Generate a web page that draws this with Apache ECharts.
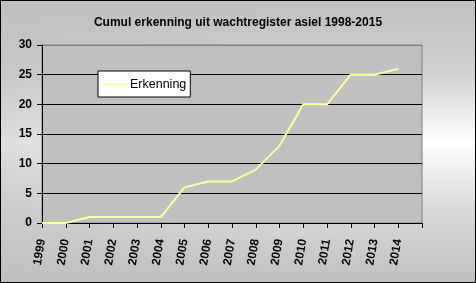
<!DOCTYPE html>
<html>
<head>
<meta charset="utf-8">
<script src="https://cdn.jsdelivr.net/npm/echarts@6/dist/echarts.min.js"></script>
<style>
html,body{margin:0;padding:0;}
#c{width:476px;height:283px;box-sizing:border-box;border:1px solid #000;
background:
 linear-gradient(to right, rgba(192,192,192,0.55) 0%, rgba(192,192,192,0) 60%),
 linear-gradient(to bottom, #c0c0c0 0%, #d0d0d0 25%, #ffffff 50%, #d8d8d8 75%, #c0c0c0 100%);}
</style>
</head>
<body>
<div id="c"></div>
<script>
const titleText = 'Cumul erkenning uit wachtregister asiel 1998-2015';
const categories = ['1999','2000','2001','2002','2003','2004','2005','2006','2007','2008','2009','2010','2011','2012','2013','2014',''];
const seriesName = 'Erkenning';
const erkenning = [0,0,1,1,1,1,6,7,7,9,13,20,20,25,25,26];
const yTicks = {min:0, max:30, interval:5};

const chart = echarts.init(document.getElementById('c'), null, {renderer:'canvas'});
const F = '"Liberation Sans", Arial, sans-serif';
chart.setOption({
  backgroundColor:'transparent',
  animation:false,
  title:{text:titleText, left:'center', top:11,
    textStyle:{fontFamily:F, fontSize:12, fontWeight:'bold', color:'#000'}},
  legend:{left:97, top:70, padding:[7,4,6,5], backgroundColor:'#fff', borderColor:'#000', borderWidth:1,
    itemWidth:25, itemHeight:2, itemGap:2, icon:'rect',
    textStyle:{fontFamily:F, fontSize:12.5, color:'#000', padding:[0,0,0,-3]},
    data:[{name:seriesName}]},
  grid:{left:41, right:53, top:44, bottom:59, show:true, backgroundColor:'#c0c0c0', borderColor:'#808080', borderWidth:1},
  xAxis:{type:'category', data:categories, boundaryGap:false,
    axisLine:{lineStyle:{color:'#000', width:1}},
    axisTick:{interval:0, length:5, lineStyle:{color:'#000'}},
    axisLabel:{interval:0, rotate:80, margin:16, fontFamily:F, fontSize:12, fontWeight:'bold', color:'#000'},
    splitLine:{show:false}},
  yAxis:{type:'value', min:yTicks.min, max:yTicks.max, interval:yTicks.interval,
    axisLine:{show:true, lineStyle:{color:'#000'}},
    axisTick:{show:true, length:5, lineStyle:{color:'#000'}},
    axisLabel:{margin:10, fontFamily:F, fontSize:12, fontWeight:'bold', color:'#000'},
    splitLine:{show:true, lineStyle:{color:['#000','#000','#000','#000','#000','#000','#808080'], width:1}}},
  series:[{name:seriesName, type:'line', data:erkenning, showSymbol:false, symbol:'none',
    lineStyle:{color:'#ffff99', width:2}, itemStyle:{color:'#ffff99'}}]
});
</script>
</body>
</html>
